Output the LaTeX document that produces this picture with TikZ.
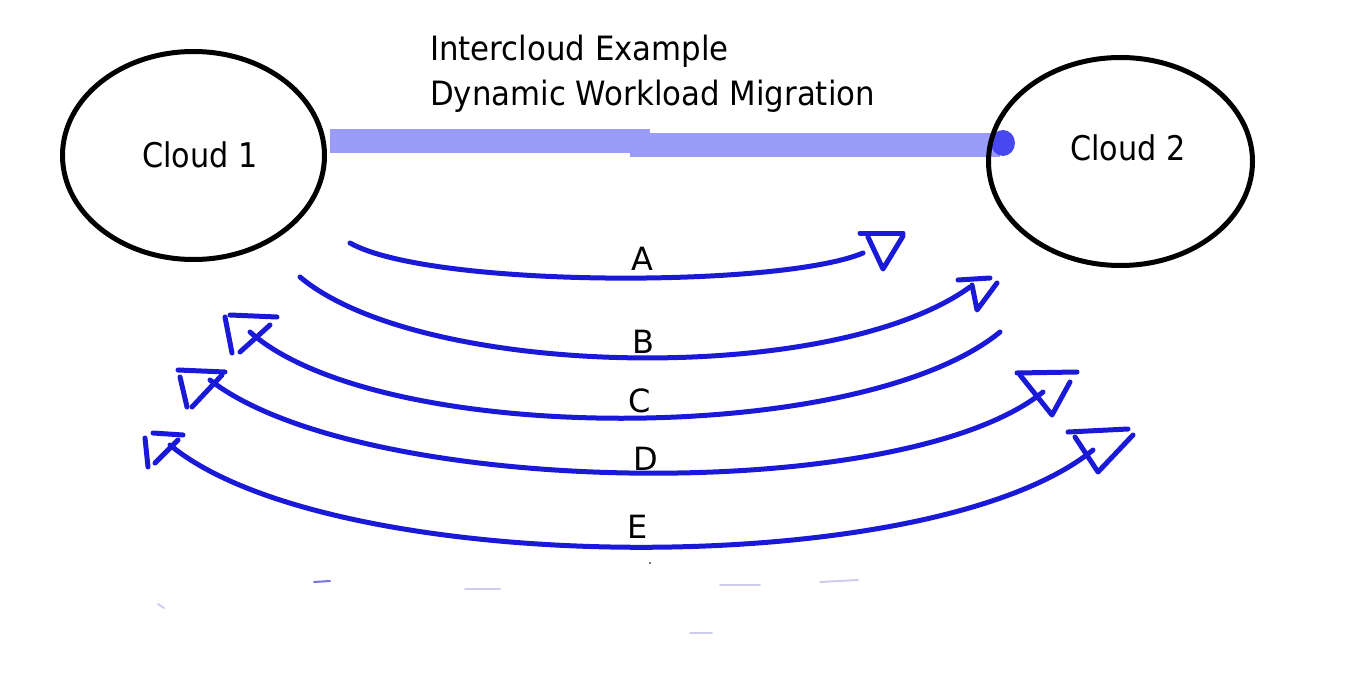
\documentclass[tikz,border=0pt]{standalone}
\usepackage{fontspec}
\setmainfont{DejaVu Sans}
\newfontfamily\cloudfont{DejaVu Sans}[FakeStretch=0.89]
\newfontfamily\titlefont{DejaVu Sans}[FakeStretch=0.92]
\usetikzlibrary{shapes.geometric}
\definecolor{penblue}{RGB}{25,25,215}
\definecolor{bandblue}{RGB}{155,155,248}
\definecolor{dotblue}{RGB}{72,72,240}
\definecolor{faintblue}{RGB}{205,205,240}
\tikzset{
  wire/.style={draw=penblue, line width=5pt, line cap=round, line join=round},
  cloudshape/.style={ellipse, draw=black, line width=5pt, inner sep=0pt},
  cloudtext/.style={font=\cloudfont\fontsize{34}{40}\selectfont, inner sep=0pt, anchor=base west},
  titletext/.style={font=\titlefont\fontsize{33.5}{40}\selectfont, inner sep=0pt, anchor=base west},
  lbl/.style={font=\fontsize{32}{38}\selectfont, inner sep=0pt, anchor=base},
  faint/.style={draw=faintblue, line width=2pt, line cap=round},
}
\begin{document}
\begin{tikzpicture}[x=1pt,y=-1pt]
\useasboundingbox[fill=white] (0,0) rectangle (1366,685);

% title
\node[titletext] (t1) at (430,61) {Intercloud Example};
\node[titletext] (t2) at (430,106) {Dynamic Workload Migration};

% link band between the clouds
\coordinate (bandL) at (330,141);
\coordinate (bandM1) at (650,141);
\coordinate (bandM2) at (630,145);
\coordinate (bandR) at (1000,145);
\draw[draw=bandblue, line width=24pt] (bandL) -- (bandM1);
\draw[draw=bandblue, line width=24pt] (bandM2) -- (bandR);
\fill[dotblue] (1003,143) ellipse (12 and 13);

% clouds
\node[cloudshape, minimum width=262pt, minimum height=208pt] (cloud1) at (193.5,155.5) {};
\node[cloudshape, minimum width=264pt, minimum height=208pt] (cloud2) at (1120.5,161.5) {};
\node[cloudtext] (c1t) at (142,167) {Cloud 1};
\node[cloudtext] (c2t) at (1070,160) {Cloud 2};

% curve A
\coordinate (a1) at (350,243);
\coordinate (a2) at (863,253);
\draw[wire] (a1) .. controls (430,288) and (780,288) .. (a2);
\draw[wire] (860,233) -- (903,233);
\draw[wire] (868,237) -- (883,269) -- (903,236);
\node[lbl] (la) at (642,270) {A};

% curve B
\coordinate (b1) at (300,277);
\coordinate (b2) at (970,287);
\draw[wire] (b1) .. controls (420,378) and (830,388) .. (b2);
\draw[wire] (958,280) -- (990,278);
\draw[wire] (972,285) -- (977,310) -- (997,283);
\node[lbl] (lb) at (643,353) {B};

% curve C
\coordinate (c1) at (1000,332);
\coordinate (c2) at (250,332);
\draw[wire] (c1) .. controls (860,447) and (380,447) .. (c2);
\draw[wire] (225,317) -- (232,353);
\draw[wire] (230,315) -- (277,317);
\draw[wire] (240,352) -- (270,325);
\node[lbl] (lc) at (640,412) {C};

% curve D
\coordinate (d1) at (210,380);
\coordinate (d2) at (1043,392);
\draw[wire] (d1) .. controls (360,497) and (900,507) .. (d2);
\draw[wire] (178,370) -- (225,372);
\draw[wire] (180,377) -- (187,407);
\draw[wire] (192,407) -- (222,375);
\draw[wire] (1017,373) -- (1077,372);
\draw[wire] (1020,375) -- (1052,415) -- (1070,382);
\node[lbl] (ld) at (646,470) {D};

% curve E
\coordinate (e1) at (170,445);
\coordinate (e2) at (1093,450);
\draw[wire] (e1) .. controls (330,578) and (930,583) .. (e2);
\draw[wire] (145,438) -- (148,467);
\draw[wire] (153,433) -- (183,435);
\draw[wire] (155,463) -- (178,440);
\draw[wire] (1068,432) -- (1128,429);
\draw[wire] (1075,437) -- (1098,472) -- (1133,435);
\node[lbl] (le) at (638,538) {E};

% faint marks near the bottom
\draw[faint, draw=penblue!60] (314,582) -- (330,581);
\draw[faint] (465,589) -- (500,589);
\draw[faint] (720,585) -- (760,585);
\draw[faint] (820,582) -- (858,580);
\draw[faint] (690,633) -- (712,633);
\draw[faint] (158,604) -- (164,608);
\fill[black!70] (650,563) circle (1.2);
\end{tikzpicture}
\end{document}
